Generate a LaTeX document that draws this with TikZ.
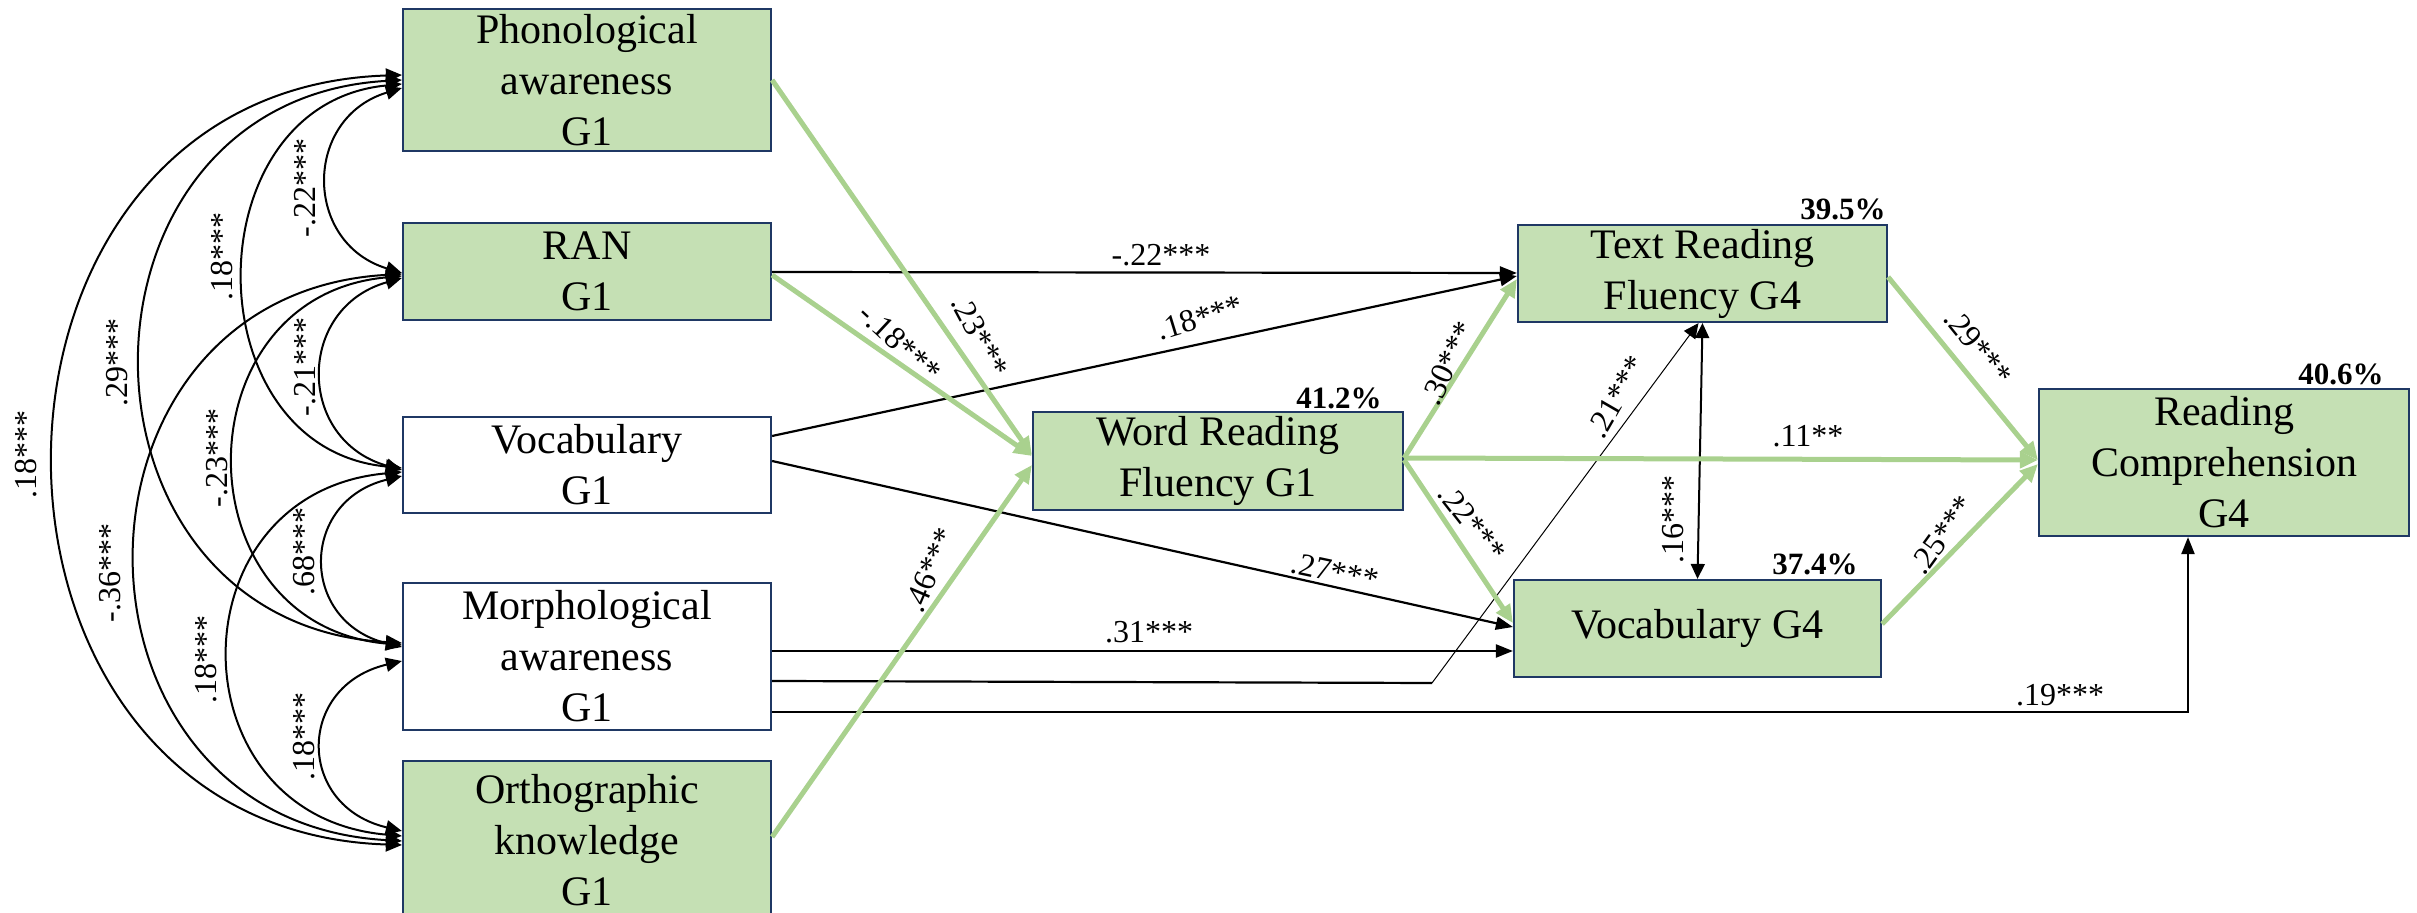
\documentclass[tikz,border=0pt]{standalone}
\usepackage{fontspec}
\setmainfont{Liberation Serif}
\usetikzlibrary{arrows.meta}
\definecolor{boxg}{HTML}{C5E0B4}
\definecolor{glc}{HTML}{A9D18E}
\definecolor{boxc}{HTML}{1F3864}
\begin{document}
\begin{tikzpicture}[x=0.5pt,y=-0.5pt,
  box/.style={draw=boxc,line width=1.1pt,fill=boxg,inner sep=0pt,align=center,
    font=\fontsize{21}{25.5}\selectfont},
  wbox/.style={box,fill=white},
  gline/.style={draw=glc,line width=2.5pt,-{Triangle[length=9pt,width=8pt]}},
  bline/.style={line width=1.1pt,-{Triangle[length=8.5pt,width=6.5pt]}},
  plain/.style={line width=1.1pt},
  cov/.style={line width=1pt,{Triangle[length=8pt,width=7pt]}-{Triangle[length=8pt,width=7pt]}},
  lab/.style={inner sep=0pt,font=\fontsize{16}{16}\selectfont},
  pct/.style={inner sep=0pt,font=\fontsize{15.5}{15.5}\selectfont\bfseries,anchor=base east}]
\useasboundingbox (0,0) rectangle (2417,913);

% boxes
\node[box,minimum width=184pt,minimum height=71pt] (pa) at (587,80) {Phonological\\awareness\\G1};
\node[box,minimum width=184pt,minimum height=48.5pt] (ran) at (587,271.5) {RAN\\G1};
\node[wbox,minimum width=184pt,minimum height=48pt] (voc1) at (587,465) {Vocabulary\\G1};
\node[wbox,minimum width=184pt,minimum height=73.5pt] (morph) at (587,656.5) {Morphological\\awareness\\G1};
\node[box,minimum width=184pt,minimum height=79.5pt] (ortho) at (587,840.5) {Orthographic\\knowledge\\G1};
\node[box,minimum width=185pt,minimum height=49pt] (wrf) at (1218,461) {Word Reading\\Fluency G1};
\node[box,minimum width=184.5pt,minimum height=48.5pt] (trf) at (1702.5,273.5) {Text Reading\\Fluency G4};
\node[box,minimum width=183.5pt,minimum height=48.5pt] (voc4) at (1697.5,628.5) {Vocabulary G4};
\node[box,minimum width=185pt,minimum height=73.5pt] (rc) at (2224,462.5) {Reading\\Comprehension\\G4};

% percentages
\node[pct] (p1) at (1382,409) {41.2\%};
\node[pct] (p2) at (1886,220) {39.5\%};
\node[pct] (p3) at (1858,575) {37.4\%};
\node[pct] (p4) at (2384,385) {40.6\%};

% covariances (left)
\draw[cov] (pa.west |- 0,75) .. controls (-61,90) and (-61,830) .. (ortho.west |- 0,845);
\draw[cov] (pa.west |- 0,80) .. controls (55,100) and (55,623) .. (morph.west |- 0,643);
\draw[cov] (pa.west |- 0,84) .. controls (192,104) and (192,448) .. (voc1.west |- 0,468);
\draw[cov] (pa.west |- 0,88) .. controls (303,118) and (303,243) .. (ran.west |- 0,273);
\draw[cov] (ran.west |- 0,274) .. controls (48,294) and (48,821) .. (ortho.west |- 0,841);
\draw[cov] (ran.west |- 0,276) .. controls (179,296) and (179,625) .. (morph.west |- 0,645);
\draw[cov] (ran.west |- 0,278) .. controls (296,308) and (296,440) .. (voc1.west |- 0,470);
\draw[cov] (voc1.west |- 0,472) .. controls (172,492) and (172,816) .. (ortho.west |- 0,836);
\draw[cov] (voc1.west |- 0,476) .. controls (299,501) and (299,622) .. (morph.west |- 0,647);
\draw[cov] (morph.west |- 0,661) .. controls (296,686) and (296,806) .. (ortho.west |- 0,831);

\node[lab,rotate=90] (c1) at (305,188) {-.22***};
\node[lab,rotate=90] (c2) at (222,257) {.18***};
\node[lab,rotate=90] (c3) at (117,363) {.29***};
\node[lab,rotate=90] (c4) at (305,367) {-.21***};
\node[lab,rotate=90] (c5) at (26,455) {.18***};
\node[lab,rotate=90] (c6) at (217,458) {-.23***};
\node[lab,rotate=90] (c7) at (110,573) {-.36***};
\node[lab,rotate=90] (c8) at (304,552) {.68***};
\node[lab,rotate=90] (c9) at (206,660) {.18***};
\node[lab,rotate=90] (c10) at (304,737) {.18***};

% black paths
\draw[bline] (ran.east |- 0,272) -- (trf.west |- 0,273);
\draw[bline] (voc1.east |- 0,436) -- (trf.west |- 0,276);
\draw[bline] (voc1.east |- 0,461) -- (voc4.west |- 0,627);
\draw[bline] (morph.east |- 0,651) -- (voc4.west |- 0,651);
\draw[plain] (morph.east |- 0,681) -- (1432,683) coordinate (mk);
\draw[line width=0.5pt,-{Triangle[length=7.5pt,width=7pt]}] (mk) -- ([xshift=-2pt]trf.south);
\draw[bline] (morph.east |- 0,712) -| (rc.south -| 2188,0);
\draw[line width=1pt,{Triangle[length=7.5pt,width=7pt]}-{Triangle[length=7.5pt,width=7pt]}] (trf.south) -- (voc4.north);

% green paths
\draw[gline] (pa.east |- 0,80) -- (wrf.west |- 0,455);
\draw[gline] (ran.east |- 0,275) -- (wrf.west |- 0,456);
\draw[gline] (ortho.east |- 0,837) -- (wrf.west |- 0,465);
\draw[gline] (wrf.east |- 0,458) -- (trf.west |- 0,279);
\draw[gline] (wrf.east |- 0,460) -- (voc4.west |- 0,623);
\draw[gline] (wrf.east |- 0,458) -- (rc.west |- 0,460);
\draw[gline] (trf.east |- 0,277) -- (rc.west |- 0,460);
\draw[gline] (voc4.east |- 0,624) -- (rc.west |- 0,464);

% path labels
\node[lab] (l1) at (1161,255) {-.22***};
\node[lab,rotate=17] (l2) at (1200,318) {.18***};
\node[lab,rotate=-12] (l3) at (1335,572) {.27***};
\node[lab,rotate=-43] (l4) at (900,343) {-.18***};
\node[lab,rotate=-62] (l5) at (980,336) {.23***};
\node[lab,rotate=67] (l6) at (930,570) {.46***};
\node[lab] (l7) at (1149,632) {.31***};
\node[lab,rotate=65] (l8) at (1448,363) {.30***};
\node[lab,rotate=-52] (l9) at (1472,523) {.22***};
\node[lab,rotate=60] (l10) at (1617,397) {.21***};
\node[lab,rotate=90] (l11) at (1673,520) {.16***};
\node[lab] (l12) at (1808,436) {.11**};
\node[lab,rotate=-51] (l13) at (1978,347) {.29***};
\node[lab,rotate=54] (l14) at (1942,535) {.25***};
\node[lab] (l15) at (2060,695) {.19***};
\end{tikzpicture}
\end{document}
